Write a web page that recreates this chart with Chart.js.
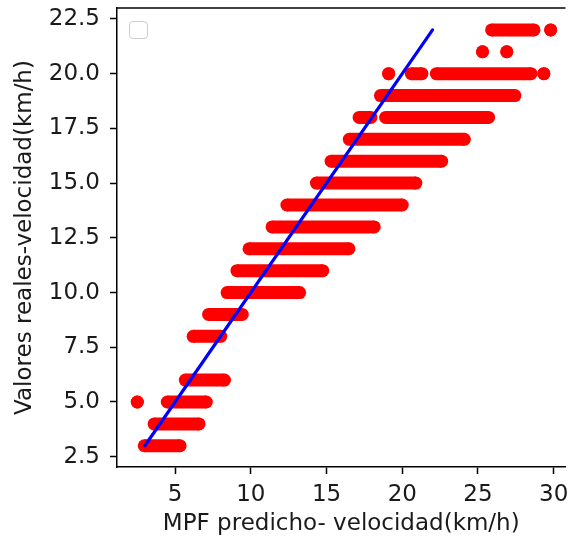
<!DOCTYPE html>
<html>
<head>
<meta charset="utf-8">
<script src="https://cdn.jsdelivr.net/npm/chart.js@4"></script>
<style>
  html, body { margin: 0; padding: 0; background: #fff; overflow: hidden; }
  #wrap { width: 572px; height: 539px; }
</style>
</head>
<body>
<div id="wrap"><canvas id="chart" width="572" height="539"></canvas></div>
<script>
// Real speed (y) and the span of predicted MPF speed (x) covered by each run of dots
const segY     = [3,    4,    5,    5,    6,    8,    9,    10,    11,    12,    13,    14,    15,    16,    17,    18,    18,    19,    20,    20,    20,    20,    21,    21,    22,    22];
const segStart = [2.96, 3.61, 2.50, 4.48, 5.67, 6.19, 7.21, 8.43,  9.08,  9.88,  11.40, 12.38, 14.33, 15.30, 16.50, 17.15, 18.90, 18.56, 19.10, 20.60, 22.25, 29.35, 25.30, 26.90, 25.90, 29.80];
const segEnd   = [5.33, 6.58, 2.50, 7.06, 8.26, 8.01, 9.43, 13.22, 14.75, 16.48, 18.15, 20.00, 20.90, 22.60, 24.10, 17.93, 25.70, 27.44, 19.10, 21.30, 28.50, 29.35, 25.30, 26.90, 28.70, 29.80];

// ideal line y = x
const lineX = [3, 22];
const lineY = [3, 22];

const xTicks = [5, 10, 15, 20, 25, 30];
const yTicks = [2.5, 5, 7.5, 10, 12.5, 15, 17.5, 20, 22.5];

const FONT = { family: 'DejaVu Sans', size: 23 };
const TXT = '#1a1a1a';

const datasets = segY.map((y, i) => ({
    data: [{ x: segStart[i], y }, { x: segEnd[i], y }],
    showLine: true,
    borderColor: '#ff0000', borderWidth: 13, borderCapStyle: 'butt',
    pointRadius: 6.5, pointHoverRadius: 6.5, pointBorderWidth: 0,
    pointBackgroundColor: '#ff0000',
    order: 2
}));
datasets.push({
    data: lineX.map((x, i) => ({ x, y: lineY[i] })),
    showLine: true,
    borderColor: '#0000ff', borderWidth: 3.2, borderCapStyle: 'round',
    pointRadius: 0, pointHoverRadius: 0,
    order: 1
});

// top spine + empty legend frame, matplotlib style
const frame = {
    id: 'frame',
    afterDraw(chart) {
        const { ctx, chartArea: a } = chart;
        ctx.save();
        ctx.strokeStyle = '#000';
        ctx.lineWidth = 1.5;
        ctx.beginPath();
        ctx.moveTo(a.left, a.top);
        ctx.lineTo(a.right, a.top);
        ctx.stroke();
        ctx.beginPath();
        ctx.roundRect(a.left + 12.5, a.top + 13.5, 18, 17, 3.5);
        ctx.fillStyle = 'rgba(255,255,255,0.8)';
        ctx.fill();
        ctx.strokeStyle = '#cccccc';
        ctx.lineWidth = 1;
        ctx.stroke();
        ctx.restore();
    }
};

const axisCommon = {
    type: 'linear',
    grid: { drawOnChartArea: false, drawTicks: true, tickLength: 7, tickColor: '#000', tickWidth: 1.5 },
    border: { display: true, color: '#000', width: 1.5 }
};

new Chart(document.getElementById('chart'), {
    type: 'scatter',
    data: { datasets },
    options: {
        responsive: false,
        devicePixelRatio: 1,
        animation: false,
        layout: { padding: { top: 8, left: 0, right: 0, bottom: 0 } },
        plugins: { legend: { display: false }, tooltip: { enabled: false } },
        scales: {
            x: {
                ...axisCommon,
                position: 'bottom',
                min: 1.16, max: 30.78,
                afterBuildTicks: s => { s.ticks = xTicks.map(v => ({ value: v })); },
                afterFit: s => { s.height = 72; s.paddingLeft = 0; s.paddingRight = 0; },
                ticks: { font: FONT, color: TXT, padding: 7, maxRotation: 0, autoSkip: false, callback: v => String(v) },
                title: { display: true, text: 'MPF predicho- velocidad(km/h)', font: FONT, color: TXT, padding: { top: 0, bottom: 1 } }
            },
            y: {
                ...axisCommon,
                position: 'left',
                min: 2.03, max: 23.0,
                afterBuildTicks: s => { s.ticks = yTicks.map(v => ({ value: v })); },
                afterFit: s => { s.width = 117; s.paddingTop = 0; s.paddingBottom = 0; },
                ticks: { font: FONT, color: TXT, padding: 10, autoSkip: false, callback: v => v.toFixed(1) },
                title: { display: true, text: 'Valores reales-velocidad(km/h)', font: FONT, color: TXT, padding: { top: 11, bottom: 0 } }
            }
        }
    },
    plugins: [frame]
});
</script>
</body>
</html>
